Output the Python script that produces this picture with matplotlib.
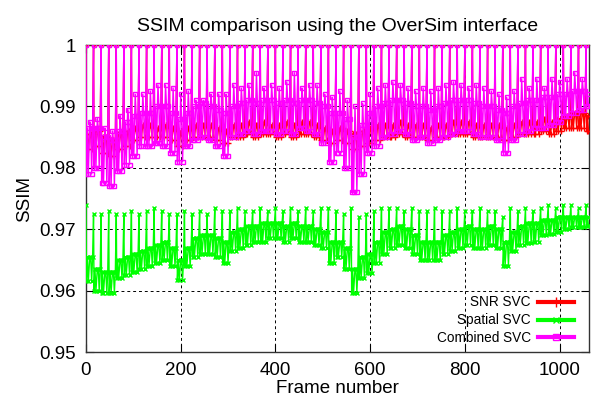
import numpy as np
import matplotlib
matplotlib.use('Agg')
import matplotlib.pyplot as plt
from matplotlib.lines import Line2D

plt.rcParams['font.family'] = ['Liberation Sans', 'DejaVu Sans']

# one value per GOP (16 frames)
gop_len = 16
last_frame = 1061
gop_starts = list(range(0, last_frame + 1, gop_len))

snr_spike = [1.0] * len(gop_starts)
snr_low = [0.983, 0.9835, 0.9825, 0.982, 0.983, 0.9835, 0.9845, 0.985, 0.985, 0.985, 0.985, 0.9845, 0.9835, 0.9845, 0.985, 0.985, 0.985, 0.9845, 0.984, 0.985,
           0.985, 0.9855, 0.985, 0.9855, 0.9855, 0.985, 0.9855, 0.985, 0.9855, 0.9855, 0.985, 0.9845, 0.984, 0.9845, 0.984, 0.983, 0.9835, 0.984, 0.9845, 0.985,
           0.985, 0.9855, 0.985, 0.985, 0.985, 0.9845, 0.985, 0.985, 0.9855, 0.9855, 0.9855, 0.985, 0.985, 0.985, 0.985, 0.9845, 0.985, 0.9855, 0.9855, 0.9855,
           0.986, 0.9855, 0.986, 0.9865, 0.9865, 0.9865, 0.986]
snr_high = [0.9855, 0.986, 0.985, 0.9845, 0.9855, 0.986, 0.9865, 0.987, 0.987, 0.9865, 0.987, 0.9865, 0.986, 0.9865, 0.987, 0.987, 0.987, 0.9865, 0.986, 0.987,
            0.987, 0.9875, 0.987, 0.9875, 0.987, 0.987, 0.9875, 0.987, 0.9875, 0.9875, 0.987, 0.9865, 0.986, 0.9865, 0.986, 0.9855, 0.986, 0.9865, 0.987, 0.987,
            0.987, 0.9875, 0.987, 0.987, 0.987, 0.9865, 0.987, 0.987, 0.9875, 0.9875, 0.9875, 0.987, 0.987, 0.987, 0.987, 0.9865, 0.987, 0.9875, 0.9875, 0.9875,
            0.988, 0.9875, 0.988, 0.9885, 0.989, 0.989, 0.9885]

spatial_spike = [0.974, 0.9725, 0.9725, 0.973, 0.9725, 0.9725, 0.973, 0.9725, 0.973, 0.9735, 0.973, 0.9725, 0.9725, 0.973, 0.9725, 0.973, 0.9725, 0.9735, 0.973, 0.973,
                 0.9735, 0.973, 0.973, 0.9735, 0.973, 0.9735, 0.973, 0.9735, 0.973, 0.9735, 0.973, 0.9735, 0.9735, 0.973, 0.9725, 0.9735, 0.972, 0.9725, 0.973, 0.9735,
                 0.9735, 0.9735, 0.973, 0.9735, 0.973, 0.973, 0.9735, 0.973, 0.973, 0.9735, 0.973, 0.973, 0.9735, 0.973, 0.973, 0.972, 0.9735, 0.973, 0.9735, 0.973,
                 0.9735, 0.974, 0.9735, 0.974, 0.974, 0.9735, 0.974]
spatial_low = [0.9615, 0.960, 0.9597, 0.9597, 0.962, 0.9625, 0.963, 0.9635, 0.964, 0.9645, 0.965, 0.964, 0.9617, 0.964, 0.9655, 0.966, 0.966, 0.9655, 0.9645, 0.9665,
               0.967, 0.9675, 0.968, 0.968, 0.9685, 0.9685, 0.968, 0.9685, 0.968, 0.968, 0.9675, 0.967, 0.9645, 0.9655, 0.9635, 0.9597, 0.962, 0.9628, 0.9645, 0.966,
               0.967, 0.9675, 0.967, 0.966, 0.965, 0.965, 0.965, 0.966, 0.9665, 0.967, 0.9675, 0.967, 0.967, 0.9675, 0.967, 0.9641, 0.9665, 0.9675, 0.9677, 0.968,
               0.969, 0.9693, 0.9695, 0.970, 0.9703, 0.9703, 0.9705]
spatial_high = [0.9655, 0.9635, 0.963, 0.963, 0.965, 0.9655, 0.966, 0.9665, 0.967, 0.9675, 0.968, 0.967, 0.965, 0.967, 0.9685, 0.969, 0.969, 0.9685, 0.968, 0.9695,
                0.970, 0.9705, 0.9705, 0.971, 0.971, 0.971, 0.9705, 0.971, 0.9705, 0.9705, 0.970, 0.9695, 0.968, 0.968, 0.967, 0.9635, 0.9655, 0.966, 0.968, 0.9695,
                0.970, 0.9705, 0.970, 0.969, 0.968, 0.968, 0.968, 0.969, 0.9695, 0.970, 0.9705, 0.970, 0.970, 0.9705, 0.970, 0.968, 0.9695, 0.9705, 0.971, 0.971,
                0.9715, 0.9715, 0.972, 0.972, 0.972, 0.972, 0.972]

combined_spike = [1.0] * len(gop_starts)
combined_low = [0.979, 0.980, 0.9775, 0.977, 0.9795, 0.9805, 0.982, 0.9835, 0.9835, 0.984, 0.9835, 0.9825, 0.981, 0.9835, 0.9845, 0.985, 0.9845, 0.9835, 0.982, 0.985,
                0.9855, 0.986, 0.9855, 0.986, 0.986, 0.9855, 0.986, 0.9855, 0.9865, 0.986, 0.9855, 0.984, 0.981, 0.9825, 0.980, 0.976, 0.979, 0.9825, 0.9835, 0.985,
                0.9855, 0.986, 0.9855, 0.9845, 0.985, 0.984, 0.9845, 0.985, 0.9855, 0.986, 0.986, 0.9855, 0.985, 0.985, 0.9845, 0.9825, 0.9845, 0.9855, 0.986, 0.9865,
                0.9865, 0.987, 0.9875, 0.9885, 0.989, 0.9895, 0.990]
combined_high = [0.9865, 0.9865, 0.985, 0.9845, 0.986, 0.9875, 0.9885, 0.989, 0.989, 0.990, 0.990, 0.989, 0.988, 0.989, 0.990, 0.9905, 0.990, 0.9895, 0.989, 0.990,
                 0.9905, 0.991, 0.9905, 0.991, 0.991, 0.9905, 0.991, 0.9905, 0.991, 0.991, 0.9905, 0.990, 0.989, 0.989, 0.988, 0.985, 0.987, 0.989, 0.990, 0.9905,
                 0.991, 0.991, 0.9905, 0.990, 0.990, 0.9895, 0.990, 0.9905, 0.991, 0.991, 0.991, 0.9905, 0.990, 0.990, 0.9895, 0.989, 0.990, 0.9905, 0.991, 0.991,
                 0.9915, 0.9915, 0.992, 0.992, 0.9925, 0.9925, 0.992]
combined_mid = [0.9875, 0.988, 0.9865, 0.986, 0.9885, 0.9895, 0.992, 0.992, 0.9925, 0.9935, 0.9935, 0.993, 0.992, 0.9925, 0.991, 0.991, 0.992, 0.992, 0.992, 0.9935,
                0.993, 0.9935, 0.9955, 0.993, 0.9935, 0.993, 0.994, 0.9955, 0.993, 0.9935, 0.9935, 0.992, 0.9915, 0.9925, 0.991, 0.990, 0.9905, 0.992, 0.993, 0.9935,
                0.994, 0.9935, 0.993, 0.9925, 0.993, 0.9925, 0.993, 0.9935, 0.994, 0.9935, 0.993, 0.9935, 0.993, 0.9925, 0.992, 0.9915, 0.9925, 0.9945, 0.993, 0.9945,
                0.993, 0.9945, 0.994, 0.9945, 0.9955, 0.9945, 0.9955]

x_ticks = [0, 200, 400, 600, 800, 1000]
y_ticks = [0.95, 0.96, 0.97, 0.98, 0.99, 1.0]
y_ticklabels = ['0.95', '0.96', '0.97', '0.98', '0.99', '1']

# where inside each GOP the read values sit
offsets = [0, 1, 3, 5, 8, 10, 12, 14]
kinds = ['spike', 'low', 'high', 'low', 'mid', 'high', 'low', 'high']


def build_series(spike, low, high, mid=None):
    if mid is None:
        mid = high
    xs, ys = [], []
    for g, start in enumerate(gop_starts):
        vals = {'spike': spike[g], 'low': low[g], 'high': high[g], 'mid': mid[g]}
        for off, kind in zip(offsets, kinds):
            f = start + off
            if f > last_frame:
                break
            xs.append(f)
            ys.append(vals[kind])
    return xs, ys


fig = plt.figure(figsize=(5.97, 4.01), dpi=100)
ax = fig.add_axes([0.144, 0.122, 0.8425, 0.7656])

x1, y1 = build_series(snr_spike, snr_low, snr_high)
x2, y2 = build_series(spatial_spike, spatial_low, spatial_high)
x3, y3 = build_series(combined_spike, combined_low, combined_high, combined_mid)

ax.plot(x1, y1, color='#ff0000', lw=1, marker='+', ms=5, mew=1, zorder=3)
ax.plot(x2, y2, color='#00ff00', lw=1, marker='x', ms=3.5, mew=1, zorder=3)
ax.plot(x3, y3, color='#ff00ff', lw=1, marker='s', ms=3.5, mew=1, mfc='none', zorder=4)

ax.set_xlim(0, 1062)
ax.set_ylim(0.95, 1.0)
ax.set_xticks(x_ticks)
ax.set_yticks(y_ticks)
ax.set_yticklabels(y_ticklabels)
ax.tick_params(direction='in', length=6, width=0.8, labelsize=13.5, pad=7,
               top=True, right=True)
ax.grid(True, color='black', lw=0.7, linestyle=(0, (3, 3)))
for s in ax.spines.values():
    s.set_color('#333333')
    s.set_linewidth(1)

ax.set_title('SSIM comparison using the OverSim interface', fontsize=14, pad=10)
ax.set_xlabel('Frame number', fontsize=13.5, labelpad=1)
ax.set_ylabel('SSIM', fontsize=13.5, labelpad=5)

handles = [
    Line2D([], [], color='#ff0000', lw=3, marker='+', ms=7, mew=1),
    Line2D([], [], color='#00ff00', lw=3, marker='x', ms=5, mew=1),
    Line2D([], [], color='#ff00ff', lw=3, marker='s', ms=5, mew=1, mfc='none'),
]
ax.legend(handles, ['SNR SVC', 'Spatial SVC', 'Combined SVC'], loc='lower right',
          bbox_to_anchor=(0.982, 0.005), frameon=False, markerfirst=False,
          fontsize=9.8, handlelength=2.7, handletextpad=0.5, labelspacing=0.28,
          borderaxespad=0)

fig.savefig('out.png', dpi=100)
